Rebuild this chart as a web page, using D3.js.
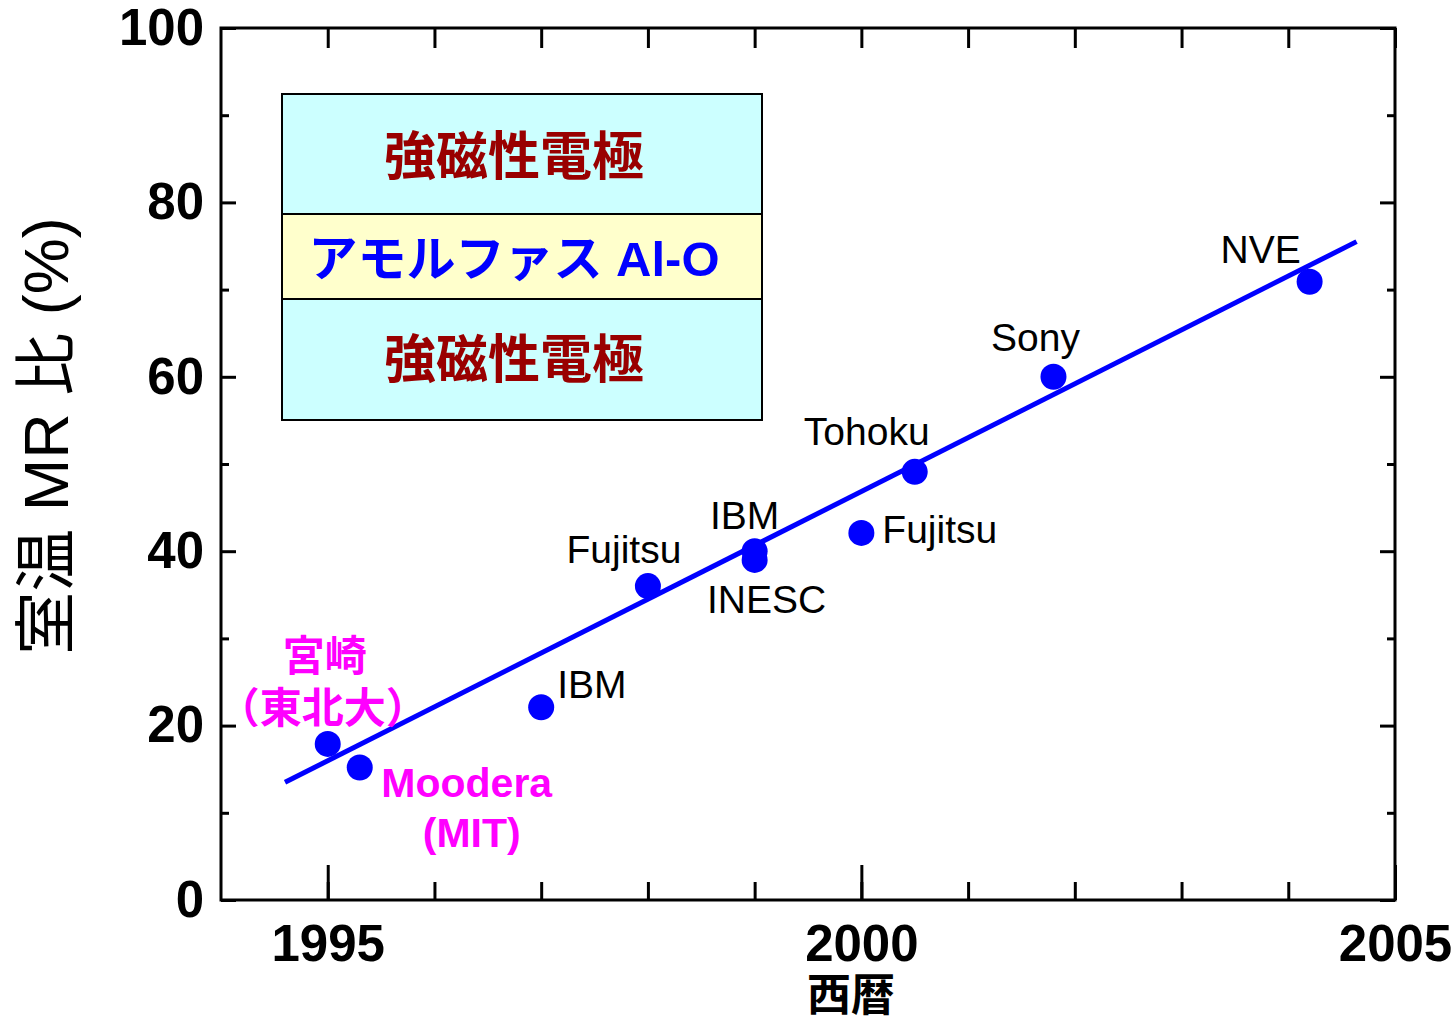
<!DOCTYPE html>
<html>
<head>
<meta charset="utf-8">
<script src="https://cdn.jsdelivr.net/npm/d3@7"></script>
<style>
  body { margin: 0; background: #fff; }
  svg { display: block; }
</style>
</head>
<body>
<svg id="chart" width="1455" height="1021"></svg>
<script>
// Room-temperature TMR ratio of amorphous Al-O tunnel junctions by year
const years    = [1995.0, 1995.3, 1997.0, 1998.0, 1999.0, 1999.0, 2000.0, 2000.5, 2001.8, 2004.2];
const mrRatios = [17.9,   15.2,   22.1,   36.0,   40.0,   39.0,   42.1,   49.1,   60.0,   70.9];
const groupLines = [
  ["宮崎", "（東北大）"],
  ["Moodera", "(MIT)"],
  ["IBM"], ["Fujitsu"], ["IBM"], ["INESC"], ["Fujitsu"], ["Tohoku"], ["Sony"], ["NVE"]
];
const highlighted = [true, true, false, false, false, false, false, false, false, false];

// trend line end points
const fitYears  = [1994.6, 2004.64];
const fitRatios = [13.5, 75.5];

// axis ticks
const xMajorTicks = [1995, 2000, 2005];
const xMinorTicks = [1995, 1996, 1997, 1998, 1999, 2000, 2001, 2002, 2003, 2004, 2005];
const yMajorTicks = [0, 20, 40, 60, 80, 100];
const yMinorTicks = [10, 30, 50, 70, 90];

// texts
const xTitle = "西暦";
const yTitle = "室温 MR 比 (%)";
const stackLayers = ["強磁性電極", "アモルファス Al-O", "強磁性電極"];

// label placement relative to each marker (pixels): per line dx, dy, anchor
const labelLayout = [
  { anchor: "middle", lines: [[-3, -73], [-5, -21]] },
  { anchor: "middle", lines: [[107, 30], [112, 80]] },
  { anchor: "start",  lines: [[16, -9]] },
  { anchor: "middle", lines: [[-24, -23]] },
  { anchor: "middle", lines: [[-10, -22]] },
  { anchor: "middle", lines: [[12, 53]] },
  { anchor: "start",  lines: [[21, 10]] },
  { anchor: "middle", lines: [[-48, -27]] },
  { anchor: "middle", lines: [[-18, -26]] },
  { anchor: "middle", lines: [[-49, -19]] }
];

const FONT = "'Liberation Sans', Arial, 'Noto Sans CJK JP', sans-serif";

const margin = { left: 221, top: 28, right: 1455 - 1395, bottom: 1021 - 900 };
const width = 1455 - margin.left - margin.right;
const height = 1021 - margin.top - margin.bottom;

const svg = d3.select("#chart");
const g = svg.append("g").attr("transform", `translate(${margin.left},${margin.top})`);

const x = d3.scaleLinear().domain([1994, 2005]).range([0, width]);
const y = d3.scaleLinear().domain([0, 100]).range([height, 0]);

// inset: junction layer stack
const box = { x0: 282 - margin.left, x1: 762 - margin.left, rows: [[94, 214], [214, 299], [299, 420]] };
const layerFill = ["#CCFFFF", "#FFFFCC", "#CCFFFF"];
const layerColor = ["#990000", "#0000FF", "#990000"];
const layerShift = [[-8, 3], [-8, 2], [-8, 0]];
stackLayers.forEach((t, i) => {
  const [a, b] = box.rows[i].map(v => v - margin.top);
  g.append("rect")
    .attr("x", box.x0).attr("y", a).attr("width", box.x1 - box.x0).attr("height", b - a)
    .attr("fill", layerFill[i]).attr("stroke", "#000").attr("stroke-width", 2);
  g.append("text")
    .attr("x", (box.x0 + box.x1) / 2 + layerShift[i][0])
    .attr("y", (a + b) / 2 + layerShift[i][1])
    .attr("dominant-baseline", "central")
    .attr("text-anchor", "middle")
    .attr("font-family", FONT)
    .attr("font-weight", "bold")
    .attr("font-size", i === 1 ? 49 : 52)
    .attr("fill", layerColor[i])
    .text(t);
});

// axes: ticks point inward on every side
function styleAxis(sel) {
  sel.select(".domain").remove();
  sel.selectAll(".tick line").attr("stroke", "#000").attr("stroke-width", 3);
  sel.selectAll(".tick text")
    .attr("fill", "#000")
    .attr("font-family", FONT)
    .attr("font-weight", "bold")
    .attr("font-size", 51);
}

g.append("g").attr("transform", `translate(0,${height})`)
  .call(d3.axisBottom(x).tickValues(xMinorTicks).tickSize(-18).tickFormat(""))
  .call(styleAxis);
g.append("g").attr("transform", `translate(0,${height})`)
  .call(d3.axisBottom(x).tickValues(xMajorTicks).tickSize(-35).tickPadding(25).tickFormat(d3.format("d")))
  .call(styleAxis);
g.append("g")
  .call(d3.axisTop(x).tickValues(xMinorTicks).tickSize(-20).tickFormat(""))
  .call(styleAxis);

g.append("g")
  .call(d3.axisLeft(y).tickValues(yMinorTicks).tickSize(-8).tickFormat(""))
  .call(styleAxis);
g.append("g")
  .call(d3.axisLeft(y).tickValues(yMajorTicks).tickSize(-15).tickPadding(17).tickFormat(d3.format("d")))
  .call(styleAxis);
g.append("g").attr("transform", `translate(${width},0)`)
  .call(d3.axisRight(y).tickValues(yMinorTicks).tickSize(-8).tickFormat(""))
  .call(styleAxis);
g.append("g").attr("transform", `translate(${width},0)`)
  .call(d3.axisRight(y).tickValues(yMajorTicks).tickSize(-15).tickFormat(""))
  .call(styleAxis);

// frame
g.append("rect")
  .attr("x", 0).attr("y", 0).attr("width", width).attr("height", height)
  .attr("fill", "none").attr("stroke", "#000").attr("stroke-width", 3);

// trend line
g.append("path")
  .datum(fitYears.map((yr, i) => [yr, fitRatios[i]]))
  .attr("d", d3.line().x(d => x(d[0])).y(d => y(d[1])))
  .attr("fill", "none").attr("stroke", "#0000FF").attr("stroke-width", 5);

// markers
const points = years.map((yr, i) => ({ yr, v: mrRatios[i], lines: groupLines[i], hl: highlighted[i], lay: labelLayout[i] }));
g.selectAll("circle.pt").data(points).join("circle")
  .attr("class", "pt")
  .attr("cx", d => x(d.yr)).attr("cy", d => y(d.v)).attr("r", 13)
  .attr("fill", "#0000FF");

// point labels (multi-line labels share one text element)
const isCJK = s => /[^\x00-\x7F]/.test(s);
points.forEach(d => {
  const cx = x(d.yr), cy = y(d.v);
  const t = g.append("text")
    .attr("text-anchor", d.lay.anchor)
    .attr("font-family", FONT)
    .attr("font-weight", d.hl ? "bold" : "normal")
    .attr("font-size", d.hl ? (isCJK(d.lines[0]) ? 42 : 41) : 39)
    .attr("fill", d.hl ? "#FF00FF" : "#000");
  d.lines.forEach((line, j) => {
    const [dx, dy] = d.lay.lines[j];
    t.append("tspan").attr("x", cx + dx).attr("y", cy + dy).text(line);
  });
});

// axis titles
svg.append("text")
  .attr("x", 851).attr("y", 1011)
  .attr("text-anchor", "middle")
  .attr("font-family", FONT)
  .attr("font-weight", "bold")
  .attr("font-size", 44)
  .attr("fill", "#000")
  .text(xTitle);

svg.append("text")
  .attr("transform", "translate(68,436) rotate(-90)")
  .attr("text-anchor", "middle")
  .attr("font-family", FONT)
  .attr("font-size", 63)
  .attr("fill", "#000")
  .text(yTitle);
</script>
</body>
</html>
